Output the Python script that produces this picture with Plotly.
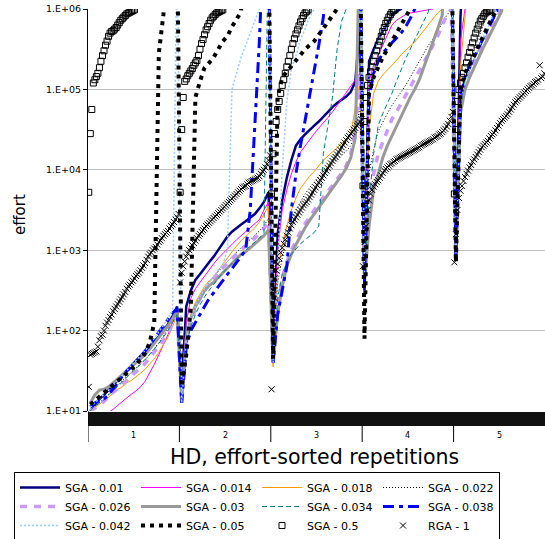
import plotly.graph_objects as go

# ---------------- data (log10 of effort) ----------------
X = 7.0  # run that did not finish inside the 1e6 budget -> off the top of the chart

sections = ["1", "2", "3", "4", "5"]
series_names = ["SGA - 0.01", "SGA - 0.014", "SGA - 0.018", "SGA - 0.022",
                "SGA - 0.026", "SGA - 0.03", "SGA - 0.034", "SGA - 0.038",
                "SGA - 0.042", "SGA - 0.05", "SGA - 0.5", "RGA - 1"]
y_tick_vals = [1e1, 1e2, 1e3, 1e4, 1e5, 1e6]
y_tick_text = ["1.E+01", "1.E+02", "1.E+03", "1.E+04", "1.E+05", "1.E+06"]

N_LINE = 20   # repetitions per section, line series
N_MARK = 60   # repetitions per section, marker series

sga_001 = [
    [1.0,1.08,1.15,1.2,1.26,1.32,1.38,1.44,1.5,1.56,1.62,1.68,1.74,1.8,1.86,1.93,2.0,2.08,2.18,2.3],
    [1.3,2.3,2.5,2.63,2.7,2.78,2.85,2.92,3.0,3.08,3.17,3.23,3.28,3.32,3.36,3.4,3.45,3.52,3.6,3.72],
    [1.7,3.2,3.62,3.9,4.12,4.3,4.38,4.44,4.5,4.55,4.6,4.66,4.73,4.78,4.83,4.87,4.91,4.97,5.1,5.8],
    [2.5,5.35,5.5,5.62,5.72,5.82,5.93,5.97,6.0] + [X]*11,
    [2.9,5.9] + [X]*18,
]
sga_0014 = [
    [0.9,0.9,0.9,0.95,0.98,1.02,1.07,1.12,1.17,1.21,1.25,1.3,1.37,1.47,1.58,1.7,1.82,1.95,2.1,2.22],
    [1.2,2.1,2.4,2.52,2.6,2.68,2.76,2.83,2.9,2.96,3.02,3.08,3.13,3.18,3.23,3.28,3.33,3.38,3.5,3.6],
    [1.65,3.0,3.5,3.75,3.95,4.1,4.22,4.3,4.38,4.45,4.52,4.58,4.65,4.72,4.8,4.87,4.95,5.03,5.12,5.2],
    [2.8,5.1,5.3,5.42,5.55,5.68,5.8,5.86,5.9,5.93,5.95,5.96,5.97,5.98,5.99,6.0] + [X]*4,
    [2.9,5.6,6.0] + [X]*17,
]
sga_0018 = [
    [1.0,1.04,1.08,1.12,1.17,1.22,1.27,1.3,1.35,1.38,1.42,1.47,1.52,1.58,1.65,1.73,1.82,1.92,2.05,2.2],
    [1.1,1.9,2.2,2.35,2.45,2.55,2.62,2.67,2.75,2.82,2.9,2.98,3.05,3.12,3.17,3.22,3.28,3.35,3.45,3.55],
    [1.55,2.75,3.05,3.3,3.5,3.65,3.77,3.85,3.92,3.98,4.05,4.12,4.17,4.22,4.28,4.32,4.38,4.45,4.75,5.1],
    [2.7,4.5,4.95,5.1,5.18,5.24,5.29,5.36,5.43,5.49,5.54,5.59,5.66,5.74,5.8,5.88,5.95,6.0] + [X]*2,
    [2.9,5.3,5.9] + [X]*17,
]
sga_0022 = [
    [1.0,1.05,1.1,1.15,1.2,1.26,1.32,1.38,1.43,1.48,1.53,1.58,1.64,1.7,1.77,1.85,1.93,2.02,2.12,2.22],
    [1.2,1.9,2.15,2.3,2.42,2.52,2.6,2.67,2.73,2.8,2.86,2.92,2.98,3.03,3.08,3.13,3.18,3.24,3.3,3.4],
    [1.6,2.6,2.9,3.15,3.38,3.5,3.6,3.7,3.78,3.85,3.92,3.98,4.03,4.08,4.13,4.18,4.23,4.3,4.45,4.8],
    [2.7,3.96,4.25,4.48,4.6,4.7,4.8,4.88,4.96,5.05,5.15,5.25,5.35,5.45,5.55,5.63,5.72,5.82,5.92,6.0],
    [2.9,4.9,5.2,5.35,5.5,5.65,5.8,5.95] + [X]*12,
]
sga_0026 = [
    [1.0,1.03,1.07,1.12,1.18,1.23,1.28,1.33,1.38,1.43,1.48,1.53,1.59,1.66,1.73,1.8,1.88,1.97,2.08,2.2],
    [1.1,1.85,2.1,2.27,2.4,2.5,2.58,2.65,2.72,2.78,2.84,2.9,2.95,3.0,3.05,3.1,3.15,3.2,3.27,3.35],
    [1.6,2.3,2.65,2.85,3.0,3.12,3.23,3.33,3.42,3.5,3.58,3.66,3.73,3.8,3.88,3.96,4.05,4.2,4.5,5.2],
    [2.9,3.6,3.95,4.2,4.35,4.5,4.63,4.72,4.82,4.92,5.02,5.12,5.24,5.34,5.44,5.55,5.66,5.8,5.92,6.0],
    [2.9,4.8,5.05,5.2,5.32,5.45,5.57,5.68,5.8,5.9,6.0] + [X]*9,
]
sga_003 = [
    [1.1,1.2,1.26,1.27,1.3,1.35,1.4,1.45,1.5,1.55,1.6,1.65,1.7,1.77,1.84,1.91,1.98,2.06,2.15,2.25],
    [1.1,1.9,2.15,2.3,2.4,2.5,2.56,2.6,2.66,2.72,2.78,2.84,2.9,2.95,2.98,3.03,3.08,3.13,3.18,3.25],
    [1.6,2.2,2.55,2.8,2.95,3.07,3.18,3.28,3.37,3.45,3.53,3.6,3.68,3.76,3.84,3.93,4.02,4.15,4.4,X],
    [2.6,3.3,3.75,3.95,4.15,4.3,4.42,4.55,4.65,4.77,4.9,5.0,5.12,5.28,5.43,5.6,5.75,5.92] + [X]*2,
    [2.9,4.7,5.0,5.15,5.28,5.4,5.52,5.63,5.75,5.87,5.97] + [X]*9,
]
sga_0034 = [
    [1.0,1.06,1.1,1.14,1.2,1.25,1.3,1.36,1.42,1.47,1.52,1.58,1.64,1.7,1.77,1.84,1.92,2.0,2.1,2.2],
    [1.1,1.8,2.05,2.2,2.32,2.42,2.5,2.58,2.65,2.72,2.78,2.84,2.9,2.95,3.0,3.05,3.1,3.15,3.22,X],
    [1.6,2.4,2.7,2.85,2.95,3.02,3.08,3.13,3.18,3.22,3.3,4.2,4.55,4.9,5.5,5.85,6.0] + [X]*3,
    [2.7,3.6,4.2,4.55,4.7,4.82,4.95,5.1,5.25,5.38,5.5,5.62,5.73,5.85,5.97] + [X]*5,
    [2.9,4.8,5.1,5.25,5.38,5.5,5.62,5.73,5.85,5.95] + [X]*10,
]
sga_0038 = [
    [1.05,1.1,1.13,1.15,1.2,1.28,1.36,1.43,1.5,1.55,1.6,1.67,1.74,1.82,1.9,1.98,2.06,2.15,2.22,2.27],
    [1.1,1.8,2.0,2.1,2.2,2.3,2.4,2.47,2.55,2.62,2.7,2.77,2.85,2.92,3.0,3.5,4.6,5.6,X,X],
    [1.6,2.2,2.5,2.8,3.5,3.95,4.3,4.6,4.9,5.2,5.55,5.9] + [X]*8,
    [2.6,4.9,5.2,5.35,5.45,5.52,5.58,5.64,5.7,5.78,5.88,6.0] + [X]*8,
    [2.9,4.9,5.15,5.28,5.4,5.52,5.64,5.76,5.88,5.98] + [X]*10,
]
sga_0042 = [
    [1.05,1.1,1.15,1.2,1.26,1.32,1.38,1.44,1.5,1.56,1.62,1.68,1.75,1.82,1.9,1.98,2.06,2.15,2.25,X],
    [1.1,1.9,2.15,2.3,2.42,2.52,2.6,2.68,2.75,2.82,3.0,5.0,5.2,5.4,5.55,5.7,5.85,6.0,X,X],
    [1.6,2.8,4.0,4.85,5.25,5.42,5.62,5.75,5.9,6.0] + [X]*10,
    [2.7,5.2,5.45,5.6,5.72,5.85,5.95,6.0] + [X]*12,
    [2.9,4.85,5.1,5.25,5.38,5.52,5.65,5.78,5.9,6.0] + [X]*10,
]
sga_005 = [
    [1.08,1.13,1.18,1.23,1.28,1.33,1.38,1.42,1.47,1.52,1.57,1.64,1.72,1.85,2.1,5.45,5.93,X,X,X],
    [1.3,1.7,2.3,4.9,5.1,5.27,5.33,5.4,5.5,5.6,5.66,5.78,5.87,5.97] + [X]*6,
    [1.65,4.9,5.15,5.22,5.3,5.37,5.43,5.5,5.55,5.6,5.68,5.77,5.84,5.92,6.0] + [X]*5,
    [1.9,4.95,5.15,5.28,5.4,5.5,5.6,5.7,5.8,5.9,6.0] + [X]*9,
    [2.85,5.0,5.2,5.3,5.42,5.55,5.67,5.78,5.9,6.0] + [X]*10,
]
# marker series: only the runs that finished (the rest are above the chart)
sga_05 = [
    [3.72,4.45,4.75,5.08,5.12,5.16,5.2,5.27,5.35,5.42,5.48,5.55,5.6,5.66,5.7,5.72,5.73,5.75,5.77,5.8,
     5.83,5.86,5.88,5.9,5.92,5.94,5.95,5.96,5.97,5.98,5.99],
    [3.72,4.5,4.9,5.1,5.13,5.17,5.2,5.23,5.26,5.3,5.33,5.36,5.42,5.5,5.57,5.62,5.68,5.74,5.78,5.82,
     5.86,5.89,5.91,5.93,5.95,5.96,5.97,5.98,5.99],
    [3.7,4.2,4.45,4.6,4.75,4.85,4.95,5.05,5.12,5.2,5.28,5.35,5.42,5.5,5.57,5.63,5.69,5.74,5.79,5.84,
     5.88,5.92,5.95,5.97,5.99],
    [3.8,4.6,4.9,5.05,5.15,5.22,5.28,5.35,5.42,5.48,5.55,5.6,5.66,5.72,5.77,5.82,5.86,5.9,5.93,5.96,
     5.98,5.99],
    [3.7,4.5,4.85,5.0,5.08,5.15,5.2,5.27,5.33,5.4,5.46,5.52,5.58,5.64,5.7,5.75,5.8,5.85,5.88,5.91,
     5.94,5.96,5.97,5.98,5.99],
]
rga_1 = [
    [1.3,1.7,1.71,1.72,1.73,1.74,1.8,1.88,1.93,1.95,2.0,2.06,2.1,2.13,2.17,2.2,2.24,2.27,2.3,2.33,
     2.36,2.39,2.42,2.45,2.48,2.52,2.55,2.57,2.6,2.62,2.65,2.68,2.7,2.72,2.75,2.78,2.81,2.84,2.88,2.92,
     2.95,2.97,3.0,3.02,3.04,3.07,3.1,3.12,3.15,3.18,3.2,3.22,3.24,3.27,3.3,3.32,3.35,3.38,3.41,3.45],
    [2.6,2.72,2.8,2.86,2.92,2.96,3.0,3.03,3.06,3.09,3.12,3.15,3.18,3.2,3.23,3.25,3.27,3.3,3.32,3.34,
     3.36,3.38,3.4,3.42,3.44,3.46,3.48,3.5,3.52,3.54,3.56,3.58,3.6,3.62,3.64,3.66,3.68,3.7,3.72,3.74,
     3.76,3.78,3.79,3.8,3.82,3.84,3.85,3.86,3.87,3.88,3.89,3.9,3.92,3.95,3.98,4.0,4.03,4.07,4.12,4.18],
    [1.27,2.5,2.65,2.75,2.83,2.9,2.97,3.03,3.08,3.13,3.18,3.22,3.27,3.31,3.35,3.38,3.41,3.44,3.47,3.5,
     3.53,3.56,3.58,3.6,3.63,3.66,3.69,3.72,3.75,3.78,3.81,3.84,3.87,3.9,3.93,3.96,3.99,4.02,4.05,4.08,
     4.11,4.14,4.16,4.19,4.22,4.25,4.28,4.31,4.34,4.37,4.4,4.42,4.45,4.47,4.5,4.52,4.55,4.57,4.6,4.63],
    [2.8,3.1,3.3,3.5,3.62,3.7,3.75,3.79,3.82,3.85,3.87,3.9,3.93,3.96,3.99,4.01,4.03,4.05,4.07,4.08,
     4.1,4.11,4.13,4.14,4.15,4.16,4.17,4.18,4.19,4.2,4.21,4.22,4.23,4.24,4.25,4.26,4.27,4.28,4.3,4.31,
     4.32,4.33,4.34,4.35,4.36,4.37,4.38,4.4,4.41,4.42,4.44,4.45,4.47,4.49,4.51,4.54,4.57,4.61,4.66,4.72],
    [2.85,3.2,3.5,3.65,3.74,3.8,3.86,3.91,3.95,3.99,4.03,4.06,4.1,4.13,4.16,4.19,4.22,4.25,4.28,4.3,
     4.32,4.34,4.36,4.39,4.42,4.44,4.46,4.49,4.52,4.55,4.58,4.61,4.63,4.65,4.67,4.69,4.72,4.75,4.78,4.81,
     4.84,4.86,4.88,4.9,4.92,4.94,4.96,4.98,5.0,5.02,5.04,5.05,5.07,5.09,5.1,5.12,5.3,5.14,5.16,5.2],
]

# ---------------- styles ----------------
styles = [
    dict(mode="lines", line=dict(color="#000080", width=2.5)),
    dict(mode="lines", line=dict(color="#FF00FF", width=1)),
    dict(mode="lines", line=dict(color="#FF9900", width=1)),
    dict(mode="lines", line=dict(color="#000000", width=1, dash="1px,2px")),
    dict(mode="lines", line=dict(color="#CC99FF", width=3.5, dash="7px,7px")),
    dict(mode="lines", line=dict(color="#999999", width=3)),
    dict(mode="lines", line=dict(color="#008080", width=1, dash="5px,3px")),
    dict(mode="lines", line=dict(color="#0000FF", width=3, dash="11px,5px,4px,5px")),
    dict(mode="lines", line=dict(color="#99CCFF", width=1.5, dash="2px,2px")),
    dict(mode="lines", line=dict(color="#000000", width=4, dash="4px,5px")),
    dict(mode="markers", marker=dict(symbol="square-open", size=6, color="black",
                                     line=dict(width=1, color="black"))),
    dict(mode="markers", marker=dict(symbol="x-thin-open", size=6, color="black",
                                     line=dict(width=1, color="black"))),
]
all_data = [sga_001, sga_0014, sga_0018, sga_0022, sga_0026, sga_003, sga_0034,
            sga_0038, sga_0042, sga_005, sga_05, rga_1]
grid_n = [N_LINE]*10 + [N_MARK, N_MARK]


def build(sec_lists, n):
    xs, ys = [], []
    for k, vals in enumerate(sec_lists):
        for i, v in enumerate(vals):
            xs.append(k + (i + 0.5) / n)
            ys.append(10 ** v)
    return xs, ys


fig = go.Figure()
for name, data, n, st in zip(series_names, all_data, grid_n, styles):
    xs, ys = build(data, n)
    fig.add_trace(go.Scatter(x=xs, y=ys, name=name, cliponaxis=True, **st))

# inner categories (one per repetition) -> dense band of category ticks under the plot
inner_vals = []
for k in range(len(sections)):
    for i in range(N_MARK):
        inner_vals.append(k + (i + 0.5) / N_MARK)

W, H = 545, 539
SCR_L, SCR_T, SCR_B = 88, 9, 411          # plot area on the page
pw = W - SCR_L
ph = SCR_B - SCR_T


def py(px):  # page row -> paper y
    return (SCR_B - px) / ph


def pxx(px):  # page column -> paper x
    return (px - SCR_L) / pw


fig.update_layout(
    width=W, height=H,
    margin=dict(l=SCR_L, r=0, t=SCR_T, b=H - SCR_B, autoexpand=False),
    paper_bgcolor="white", plot_bgcolor="white",
    font=dict(family="DejaVu Sans", color="black"),
    showlegend=True,
    legend=dict(orientation="h", x=pxx(14), y=py(472), xanchor="left", yanchor="top",
                bordercolor="black", borderwidth=1, bgcolor="white",
                font=dict(size=11, family="DejaVu Sans"),
                itemwidth=40, entrywidth=66, entrywidthmode="pixels",
                tracegroupgap=0),
)
fig.update_xaxes(range=[0, len(sections)], showgrid=False, zeroline=False,
                 showline=False, tickmode="array", tickvals=inner_vals,
                 showticklabels=False, ticks="outside", ticklen=14, tickwidth=1.6,
                 tickcolor="#111111")
fig.update_yaxes(type="log", range=[1, 6], tickmode="array", tickvals=y_tick_vals,
                 ticktext=y_tick_text, showgrid=True, gridcolor="#C0C0C0", gridwidth=1,
                 showline=True, linecolor="black", linewidth=1, ticks="outside",
                 ticklen=4, tickcolor="black", ticklabeloverflow="allow",
                 tickfont=dict(size=9.5, family="DejaVu Sans", color="black"), zeroline=False)

# section (outer category) labels and dividers
for k, lab in enumerate(sections):
    fig.add_annotation(x=k + 0.5, xref="x", y=py(435), yref="paper", text=lab,
                       xanchor="center", yanchor="middle",
                       showarrow=False, font=dict(size=8, family="DejaVu Sans"))
for k in range(len(sections)):
    fig.add_shape(type="line", xref="x", yref="paper", x0=k, x1=k,
                  y0=py(411) if k == 0 else py(425), y1=py(442),
                  line=dict(color="black", width=1))

fig.add_annotation(text="effort", xref="paper", yref="paper", x=pxx(20), y=py(215),
                   xanchor="center", yanchor="middle",
                   textangle=-90, showarrow=False, font=dict(size=15, family="DejaVu Sans"))
fig.add_annotation(text="HD, effort-sorted repetitions", xref="paper", yref="paper",
                   x=pxx(314), y=py(457), xanchor="center", yanchor="middle", showarrow=False,
                   font=dict(size=20.5, family="DejaVu Sans"))

# remove the default 8px page margin so the figure fills the 545x539 window exactly
fig.write_html("out.html", config={"displayModeBar": False},
               post_script="document.body.style.margin='0px';")
